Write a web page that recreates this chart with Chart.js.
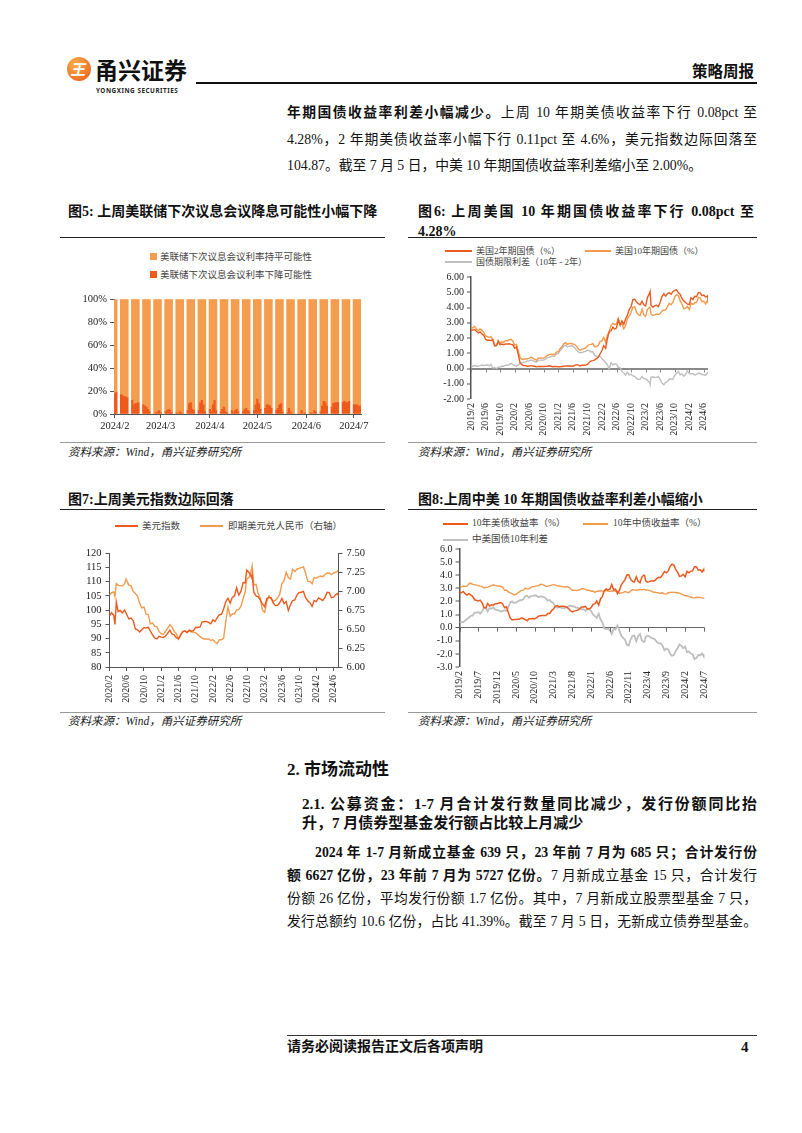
<!DOCTYPE html>
<html><head><meta charset="utf-8">
<script src="https://cdn.jsdelivr.net/npm/chart.js@4.4.1/dist/chart.umd.min.js"></script>
<style>
body{margin:0;background:#fff;}
#page{position:relative;width:802px;height:1133px;overflow:hidden;font-family:'Liberation Serif','Noto Sans CJK SC',serif;color:#111;}
.a{position:absolute;white-space:nowrap;}
.j{position:absolute;text-align:justify;text-align-last:justify;white-space:nowrap;}
.p{font-size:13.8px;line-height:20px;}
.t{font-size:13.5px;font-weight:bold;line-height:18px;}
.rule{position:absolute;height:1px;background:#222;}
.srcl{position:absolute;height:1px;background:#9a9a9a;}
.src{position:absolute;font-size:11.5px;font-style:italic;color:#222;line-height:14px;white-space:nowrap;}
.lgl{position:absolute;height:2px;}
.lgt{position:absolute;font-size:9.5px;color:#444;line-height:12px;white-space:nowrap;font-family:'Liberation Serif','Noto Sans CJK SC',serif;}
.sq{position:absolute;width:7px;height:7px;}
canvas{position:absolute;}
</style></head>
<body><div id="page">
<!-- header -->
<div class="a" style="left:67px;top:57px;width:24px;height:24px;border-radius:50%;background:radial-gradient(circle at 35% 30%,#F9B048,#E8561C);"></div>
<div class="a" style="left:67px;top:57px;width:24px;height:24px;line-height:24px;text-align:center;color:#fff;font-family:'Noto Sans CJK SC';font-weight:bold;font-size:15px;transform:skewX(-12deg);">王</div>
<div class="a" style="left:95px;top:54px;font-family:'Noto Sans CJK SC';font-weight:bold;font-size:23px;line-height:30px;color:#111;">甬兴证券</div>
<div class="a" style="left:96px;top:86px;font-family:'Noto Sans';font-weight:bold;font-size:6.3px;letter-spacing:0.55px;color:#222;">YONGXING SECURITIES</div>
<div class="a" style="left:196px;top:82px;width:561px;height:2px;background:#111;"></div>
<div class="a" style="left:692px;top:60px;font-family:'Noto Sans CJK SC';font-weight:bold;font-size:15.5px;line-height:20px;">策略周报</div>

<!-- top paragraph -->
<div class="j p" style="left:287px;top:103px;width:470px;"><b>年期国债收益率利差小幅减少。</b>上周 10 年期美债收益率下行 0.08pct 至</div>
<div class="j p" style="left:287px;top:130px;width:470px;">4.28%，2 年期美债收益率小幅下行 0.11pct 至 4.6%，美元指数边际回落至</div>
<div class="a p" style="left:287px;top:156px;">104.87。截至 7 月 5 日，中美 10 年期国债收益率利差缩小至 2.00%。</div>

<!-- figure 5 / 6 titles -->
<div class="a t" style="left:68px;top:203px;font-size:14px;">图5: 上周美联储下次议息会议降息可能性小幅下降</div>
<div class="j t" style="left:418px;top:203px;width:336px;font-size:14px;">图6: 上周美国 10 年期国债收益率下行 0.08pct 至</div>
<div class="a t" style="left:418px;top:223px;font-size:14px;">4.28%</div>
<div class="rule" style="left:60px;top:237px;width:325px;"></div>
<div class="rule" style="left:408px;top:237px;width:349px;"></div>

<!-- fig5 legend -->
<div class="sq" style="left:150px;top:253px;background:#F59D4F;"></div>
<div class="lgt" style="left:160px;top:251px;">美联储下次议息会议利率持平可能性</div>
<div class="sq" style="left:150px;top:271px;background:#EE5A1A;"></div>
<div class="lgt" style="left:160px;top:269px;">美联储下次议息会议利率下降可能性</div>

<!-- fig6 legend -->
<div class="lgl" style="left:445px;top:250px;width:27px;background:#EB5A1E;"></div>
<div class="lgt" style="left:476px;top:245px;font-size:9px;">美国2年期国债（%）</div>
<div class="lgl" style="left:585px;top:250px;width:26px;background:#F39A4C;"></div>
<div class="lgt" style="left:615px;top:245px;font-size:9px;">美国10年期国债（%）</div>
<div class="lgl" style="left:445px;top:261px;width:27px;background:#BFBFBF;"></div>
<div class="lgt" style="left:476px;top:256px;font-size:9px;">国债期限利差（10年 - 2年）</div>

<canvas id="c5" width="310" height="144" style="left:62px;top:290px;"></canvas>
<canvas id="c6" width="300" height="170" style="left:420px;top:268px;"></canvas>

<div class="srcl" style="left:60px;top:442px;width:325px;"></div>
<div class="srcl" style="left:408px;top:442px;width:349px;"></div>
<div class="src" style="left:68px;top:445px;">资料来源：Wind，甬兴证券研究所</div>
<div class="src" style="left:418px;top:445px;">资料来源：Wind，甬兴证券研究所</div>

<!-- figure 7 / 8 titles -->
<div class="a t" style="left:68px;top:491px;font-size:14px;">图7:上周美元指数边际回落</div>
<div class="a t" style="left:418px;top:491px;font-size:14px;">图8:上周中美 10 年期国债收益率利差小幅缩小</div>
<div class="rule" style="left:60px;top:509px;width:325px;"></div>
<div class="rule" style="left:408px;top:509px;width:349px;"></div>

<!-- fig7 legend -->
<div class="lgl" style="left:115px;top:525px;width:23px;background:#EB5A1E;"></div>
<div class="lgt" style="left:142px;top:520px;">美元指数</div>
<div class="lgl" style="left:200px;top:525px;width:23px;background:#F39A4C;"></div>
<div class="lgt" style="left:228px;top:520px;">即期美元兑人民币（右轴）</div>

<!-- fig8 legend -->
<div class="lgl" style="left:443px;top:523px;width:25px;background:#EB5A1E;"></div>
<div class="lgt" style="left:472px;top:517px;">10年美债收益率（%）</div>
<div class="lgl" style="left:583px;top:523px;width:25px;background:#F39A4C;"></div>
<div class="lgt" style="left:613px;top:517px;">10年中债收益率（%）</div>
<div class="lgl" style="left:443px;top:539px;width:25px;background:#BFBFBF;"></div>
<div class="lgt" style="left:472px;top:533px;">中美国债10年利差</div>

<canvas id="c7" width="320" height="160" style="left:60px;top:543px;"></canvas>
<canvas id="c8" width="310" height="165" style="left:410px;top:540px;"></canvas>

<div class="srcl" style="left:60px;top:712px;width:325px;"></div>
<div class="srcl" style="left:408px;top:712px;width:349px;"></div>
<div class="src" style="left:68px;top:714px;">资料来源：Wind，甬兴证券研究所</div>
<div class="src" style="left:418px;top:714px;">资料来源：Wind，甬兴证券研究所</div>

<!-- section 2 -->
<div class="a" style="left:287px;top:759px;font-size:17px;font-weight:bold;line-height:22px;">2. 市场流动性</div>
<div class="j" style="left:302px;top:794px;width:455px;font-size:15px;font-weight:bold;line-height:20px;">2.1. 公募资金：1-7 月合计发行数量同比减少，发行份额同比抬</div>
<div class="a" style="left:302px;top:813px;font-size:15px;font-weight:bold;line-height:20px;">升，7 月债券型基金发行额占比较上月减少</div>
<div class="j p" style="left:315px;top:843px;width:442px;font-weight:bold;">2024 年 1-7 月新成立基金 639 只，23 年前 7 月为 685 只；合计发行份</div>
<div class="j p" style="left:287px;top:866px;width:470px;"><b>额 6627 亿份，23 年前 7 月为 5727 亿份。</b>7 月新成立基金 15 只，合计发行</div>
<div class="j p" style="left:287px;top:889px;width:470px;">份额 26 亿份，平均发行份额 1.7 亿份。其中，7 月新成立股票型基金 7 只，</div>
<div class="j p" style="left:287px;top:912px;width:470px;">发行总额约 10.6 亿份，占比 41.39%。截至 7 月 5 日，无新成立债券型基金。</div>

<!-- footer -->
<div class="a" style="left:287px;top:1035px;width:470px;height:1px;background:#333;"></div>
<div class="a" style="left:287px;top:1038px;font-size:14px;font-weight:bold;line-height:18px;">请务必阅读报告正文后各项声明</div>
<div class="a" style="left:741px;top:1038px;font-size:15px;font-weight:bold;line-height:18px;">4</div>
</div>

<script>
// ---------------- Figure 5 data: Fed next-meeting probabilities (per trading day, %) ----------------
const fedStart = [2024, 2, 1];
const fedEnd = [2024, 7, 5];
const fedTickLabels = ['2024/2', '2024/3', '2024/4', '2024/5', '2024/6', '2024/7'];
const fedCutProb = [
  18, 19,
  17, 16, 15, 15, 14,
  12, 8, 9, 9, 10,
  8, 7, 6, 4, 2,
  0, 1, 2, 3, 1,
  2, 3, 4, 3, 1,
  1, 0, 2, 1, 0,
  3, 9, 10, 4, 3,
  3, 10, 12, 8, 2,
  4, 2, 8, 12, 3,
  2, 4, 6, 2, 1,
  3, 1, 3, 4, 2,
  2, 4, 5, 3, 2,
  3, 8, 13, 9, 4,
  5, 8, 8, 7, 5,
  3, 5, 8, 9, 2,
  1, 5, 2, 0, 0,
  0, 0, 3, 0, 1,
  0, 1, 0, 3, 2,
  2, 7, 11, 10, 7,
  6, 9, 10, 10, 10,
  10, 11, 10, 10, 11,
  8, 8, 8, 7, 7
];
const fedHoldProb = [
  82, 81,
  83, 84, 85, 85, 86,
  88, 92, 91, 91, 90,
  92, 93, 94, 96, 98,
  100, 99, 98, 97, 99,
  98, 97, 96, 97, 99,
  99, 100, 98, 99, 100,
  97, 91, 90, 96, 97,
  97, 90, 88, 92, 98,
  96, 98, 92, 88, 97,
  98, 96, 94, 98, 99,
  97, 99, 97, 96, 98,
  98, 96, 95, 97, 98,
  97, 92, 87, 91, 96,
  95, 92, 92, 93, 95,
  97, 95, 92, 91, 98,
  99, 95, 98, 100, 100,
  100, 100, 97, 100, 99,
  100, 99, 100, 97, 98,
  98, 93, 89, 90, 93,
  94, 91, 90, 90, 90,
  90, 89, 90, 90, 89,
  92, 92, 92, 93, 93
];

// ---------------- Figures 6 & 8 data: bond yields (%) ----------------
const bondDates = [
 '2019-02-01','2019-02-16','2019-03-01','2019-03-16','2019-04-01','2019-04-16','2019-05-01','2019-05-16','2019-06-01','2019-06-16','2019-07-01','2019-07-16','2019-08-01','2019-08-16','2019-09-01','2019-09-16','2019-10-01','2019-10-16','2019-11-01','2019-11-16','2019-12-01','2019-12-16',
 '2020-01-01','2020-01-16','2020-02-01','2020-02-16','2020-03-01','2020-03-16','2020-04-01','2020-04-16','2020-05-01','2020-05-16','2020-06-01','2020-06-16','2020-07-01','2020-07-16','2020-08-01','2020-08-16','2020-09-01','2020-09-16','2020-10-01','2020-10-16','2020-11-01','2020-11-16','2020-12-01','2020-12-16',
 '2021-01-01','2021-01-16','2021-02-01','2021-02-16','2021-03-01','2021-03-16','2021-04-01','2021-04-16','2021-05-01','2021-05-16','2021-06-01','2021-06-16','2021-07-01','2021-07-16','2021-08-01','2021-08-16','2021-09-01','2021-09-16','2021-10-01','2021-10-16','2021-11-01','2021-11-16','2021-12-01','2021-12-16',
 '2022-01-01','2022-01-16','2022-02-01','2022-02-16','2022-03-01','2022-03-16','2022-04-01','2022-04-16','2022-05-01','2022-05-16','2022-06-01','2022-06-16','2022-07-01','2022-07-16','2022-08-01','2022-08-16','2022-09-01','2022-09-16','2022-10-01','2022-10-16','2022-11-01','2022-11-16','2022-12-01','2022-12-16',
 '2023-01-01','2023-01-16','2023-02-01','2023-02-16','2023-03-01','2023-03-08','2023-03-16','2023-04-01','2023-04-16','2023-05-01','2023-05-16','2023-06-01','2023-06-16','2023-07-01','2023-07-16','2023-08-01','2023-08-16','2023-09-01','2023-09-16','2023-10-01','2023-10-16','2023-11-01','2023-11-16','2023-12-01','2023-12-16',
 '2024-01-01','2024-01-16','2024-02-01','2024-02-16','2024-03-01','2024-03-16','2024-04-01','2024-04-16','2024-05-01','2024-05-16','2024-06-01','2024-06-16','2024-07-01','2024-07-05'
];
const us2y = [
 2.51,2.52,2.55,2.44,2.33,2.40,2.27,2.19,1.92,1.85,1.86,1.84,1.88,1.48,1.50,1.76,1.56,1.60,1.56,1.61,1.61,1.62,
 1.58,1.56,1.33,1.42,0.91,0.36,0.23,0.20,0.19,0.15,0.16,0.19,0.16,0.15,0.11,0.14,0.13,0.14,0.13,0.14,0.15,0.18,0.15,0.12,
 0.13,0.13,0.11,0.11,0.13,0.15,0.17,0.16,0.16,0.15,0.15,0.21,0.25,0.22,0.17,0.21,0.21,0.22,0.27,0.40,0.50,0.52,0.57,0.65,
 0.73,0.97,1.18,1.50,1.33,1.94,2.44,2.46,2.72,2.58,2.66,3.20,2.84,3.12,2.90,3.25,3.51,3.87,4.05,4.50,4.55,4.35,4.25,4.18,
 4.41,4.18,4.10,4.64,4.89,5.05,4.14,4.03,4.10,4.15,4.06,4.34,4.72,4.90,4.75,4.90,4.97,4.87,5.04,5.12,5.17,4.96,4.87,4.58,4.42,
 4.33,4.22,4.20,4.64,4.53,4.73,4.71,4.97,4.96,4.78,4.82,4.69,4.75,4.60
];
const us10y = [
 2.69,2.66,2.76,2.59,2.49,2.59,2.50,2.39,2.13,2.09,2.03,2.10,1.90,1.55,1.50,1.85,1.65,1.75,1.72,1.83,1.82,1.88,
 1.92,1.81,1.52,1.59,1.13,0.73,0.59,0.62,0.62,0.64,0.66,0.75,0.68,0.61,0.53,0.68,0.68,0.69,0.68,0.75,0.87,0.91,0.93,0.92,
 0.93,1.09,1.09,1.30,1.42,1.62,1.69,1.58,1.63,1.64,1.61,1.57,1.46,1.30,1.20,1.26,1.30,1.34,1.48,1.57,1.58,1.63,1.43,1.44,
 1.52,1.78,1.81,2.03,1.72,2.19,2.39,2.83,2.96,2.88,2.94,3.28,2.89,2.93,2.60,2.82,3.26,3.45,3.67,4.02,4.04,3.70,3.53,3.48,
 3.88,3.53,3.42,3.86,4.01,3.98,3.57,3.47,3.51,3.57,3.54,3.61,3.77,3.84,3.83,4.05,4.28,4.18,4.33,4.68,4.84,4.77,4.45,4.22,3.91,
 3.95,4.07,3.87,4.30,4.19,4.31,4.33,4.66,4.63,4.38,4.41,4.24,4.47,4.28
];
const usTermSpread = [
 0.18,0.14,0.21,0.15,0.16,0.19,0.23,0.20,0.21,0.24,0.17,0.26,0.02,0.07,0.00,0.09,0.09,0.15,0.16,0.22,0.21,0.26,
 0.34,0.25,0.19,0.17,0.22,0.37,0.36,0.42,0.43,0.49,0.50,0.56,0.52,0.46,0.42,0.54,0.55,0.55,0.55,0.61,0.72,0.73,0.78,0.80,
 0.80,0.96,0.98,1.19,1.29,1.47,1.52,1.42,1.47,1.49,1.46,1.36,1.21,1.08,1.03,1.05,1.09,1.12,1.21,1.17,1.08,1.11,0.86,0.79,
 0.79,0.81,0.63,0.53,0.39,0.25,-0.05,0.37,0.24,0.30,0.28,0.08,0.05,-0.19,-0.30,-0.43,-0.25,-0.42,-0.38,-0.48,-0.51,-0.65,-0.72,-0.70,
 -0.53,-0.65,-0.68,-0.78,-0.88,-1.07,-0.57,-0.56,-0.59,-0.58,-0.52,-0.73,-0.95,-1.06,-0.92,-0.85,-0.69,-0.69,-0.71,-0.44,-0.33,-0.19,-0.42,-0.36,-0.51,
 -0.38,-0.15,-0.33,-0.34,-0.34,-0.42,-0.38,-0.31,-0.33,-0.40,-0.41,-0.45,-0.28,-0.32
];
const cn10y = [
 3.10,3.10,3.18,3.13,3.16,3.35,3.40,3.30,3.28,3.24,3.22,3.17,3.15,3.03,3.06,3.09,3.14,3.20,3.27,3.21,3.18,3.19,
 3.14,3.09,2.85,2.86,2.73,2.65,2.59,2.51,2.53,2.64,2.75,2.84,2.86,3.00,2.97,2.96,3.09,3.12,3.15,3.19,3.20,3.29,3.30,3.25,
 3.15,3.15,3.20,3.25,3.28,3.24,3.20,3.18,3.15,3.12,3.10,3.14,3.09,2.99,2.85,2.86,2.83,2.87,2.88,2.98,2.98,2.92,2.85,2.85,
 2.78,2.79,2.69,2.78,2.78,2.83,2.79,2.76,2.83,2.80,2.75,2.80,2.82,2.79,2.76,2.63,2.64,2.67,2.76,2.71,2.67,2.79,2.90,2.88,
 2.84,2.90,2.92,2.89,2.92,2.92,2.87,2.86,2.84,2.78,2.72,2.70,2.67,2.64,2.63,2.66,2.56,2.58,2.66,2.68,2.70,2.69,2.68,2.66,2.63,
 2.56,2.50,2.43,2.44,2.37,2.34,2.29,2.26,2.32,2.30,2.31,2.27,2.24,2.28
];
const cnUsSpread = [
 0.41,0.44,0.42,0.54,0.67,0.76,0.90,0.91,1.15,1.15,1.19,1.07,1.25,1.48,1.56,1.24,1.49,1.45,1.55,1.38,1.36,1.31,
 1.22,1.28,1.33,1.27,1.60,1.92,2.00,1.89,1.91,2.00,2.09,2.09,2.18,2.39,2.44,2.28,2.41,2.43,2.47,2.44,2.33,2.38,2.37,2.33,
 2.22,2.06,2.11,1.95,1.86,1.62,1.51,1.60,1.52,1.48,1.49,1.57,1.63,1.69,1.65,1.60,1.53,1.53,1.40,1.41,1.40,1.29,1.42,1.41,
 1.26,1.01,0.88,0.75,1.06,0.64,0.40,-0.07,-0.13,-0.08,-0.19,-0.48,-0.07,-0.14,0.16,-0.19,-0.62,-0.78,-0.91,-1.31,-1.37,-0.91,-0.63,-0.60,
 -1.04,-0.63,-0.50,-0.97,-1.09,-1.06,-0.70,-0.61,-0.67,-0.79,-0.82,-0.91,-1.10,-1.20,-1.20,-1.39,-1.72,-1.60,-1.67,-2.00,-2.14,-2.08,-1.77,-1.56,-1.28,
 -1.39,-1.57,-1.44,-1.86,-1.82,-1.97,-2.04,-2.40,-2.31,-2.08,-2.10,-1.97,-2.23,-2.00
];
const fig6TickLabels = ['2019/2','2019/6','2019/10','2020/2','2020/6','2020/10','2021/2','2021/6','2021/10','2022/2','2022/6','2022/10','2023/2','2023/6','2023/10','2024/2','2024/6'];
const fig8TickLabels = ['2019/2','2019/7','2019/12','2020/5','2020/10','2021/3','2021/8','2022/1','2022/6','2022/11','2023/4','2023/9','2024/2','2024/7'];

// ---------------- Figure 7 data: DXY and USD/CNY ----------------
const fxDates = [
 '2020-02-01','2020-02-16','2020-03-01','2020-03-09','2020-03-19','2020-04-01','2020-04-16','2020-05-01','2020-05-16','2020-05-27','2020-06-16','2020-07-01','2020-07-16','2020-08-01','2020-08-16','2020-09-01','2020-09-16','2020-10-01','2020-10-16','2020-11-01','2020-11-16','2020-12-01','2020-12-16',
 '2021-01-01','2021-01-16','2021-02-01','2021-02-16','2021-03-01','2021-03-16','2021-04-01','2021-04-16','2021-05-01','2021-05-16','2021-06-01','2021-06-16','2021-07-01','2021-07-16','2021-08-01','2021-08-16','2021-09-01','2021-09-16','2021-10-01','2021-10-16','2021-11-01','2021-11-16','2021-12-01','2021-12-16',
 '2022-01-01','2022-01-16','2022-02-01','2022-02-16','2022-03-01','2022-03-16','2022-04-01','2022-04-16','2022-05-01','2022-05-16','2022-06-01','2022-06-16','2022-07-01','2022-07-16','2022-08-01','2022-08-16','2022-09-01','2022-09-16','2022-09-27','2022-10-16','2022-11-01','2022-11-04','2022-11-16','2022-12-01','2022-12-16',
 '2023-01-01','2023-01-16','2023-02-01','2023-02-16','2023-03-01','2023-03-16','2023-04-01','2023-04-16','2023-05-01','2023-05-16','2023-06-01','2023-06-16','2023-07-01','2023-07-16','2023-08-01','2023-08-16','2023-09-01','2023-09-16','2023-10-01','2023-10-16','2023-11-01','2023-11-16','2023-12-01','2023-12-16',
 '2024-01-01','2024-01-16','2024-02-01','2024-02-16','2024-03-01','2024-03-16','2024-04-01','2024-04-16','2024-05-01','2024-05-16','2024-06-01','2024-06-16','2024-07-01','2024-07-05'
];
const dxy = [
 98.0,99.1,98.1,95.0,102.8,99.5,99.9,99.0,100.0,99.0,96.9,97.2,96.3,93.4,93.1,92.3,93.1,93.9,93.7,94.0,92.6,91.3,90.2,
 89.9,90.8,90.5,90.4,90.9,91.8,93.0,91.6,91.3,90.3,89.9,91.0,92.4,92.6,92.1,93.0,92.6,92.8,94.0,93.9,94.1,95.8,96.0,96.0,
 95.7,95.2,96.6,96.0,97.4,98.4,98.6,100.5,103.0,104.2,102.5,104.5,105.0,107.9,105.3,106.6,109.7,109.6,114.1,113.1,111.4,112.4,106.3,105.0,104.7,
 103.5,102.2,101.2,104.0,104.5,104.4,102.5,101.6,101.7,102.6,104.1,102.3,103.0,99.9,101.9,103.4,103.6,105.3,106.2,106.3,106.6,104.4,103.3,102.6,
 101.3,103.4,103.0,104.3,103.9,103.4,104.5,106.3,106.2,104.4,104.6,105.5,105.9,104.9
];
const usdcny = [
 6.95,6.98,6.99,6.93,7.10,7.08,7.07,7.07,7.10,7.16,7.08,7.07,7.00,6.97,6.94,6.84,6.78,6.79,6.70,6.69,6.57,6.58,6.54,
 6.53,6.47,6.44,6.43,6.47,6.51,6.56,6.53,6.47,6.44,6.37,6.43,6.47,6.48,6.46,6.48,6.46,6.46,6.45,6.43,6.40,6.38,6.37,6.37,
 6.37,6.35,6.36,6.33,6.31,6.36,6.36,6.38,6.61,6.79,6.67,6.70,6.70,6.75,6.76,6.80,6.90,6.99,7.16,7.19,7.30,7.33,7.08,7.09,6.97,
 6.90,6.75,6.72,6.86,6.94,6.90,6.87,6.88,6.91,6.96,7.10,7.14,7.25,7.18,7.16,7.29,7.26,7.29,7.30,7.31,7.32,7.24,7.13,7.13,
 7.10,7.18,7.17,7.19,7.20,7.19,7.22,7.24,7.24,7.22,7.24,7.25,7.27,7.27
];
const fig7TickLabels = ['2020/2','2020/6','2020/10','2021/2','2021/6','2021/10','2022/2','2022/6','2022/10','2023/2','2023/6','2023/10','2024/2','2024/6'];

// ---------------- colours & helpers ----------------
const DARK = '#EB5A1E', LIGHT = '#F39A4C', GRAY = '#BFBFBF';
const axisFont = {family: "'Liberation Serif','Times New Roman',serif", size: 10};
const AXC = '#555';
Chart.defaults.font.family = axisFont.family;
Chart.defaults.color = '#222';

function monthPos(dateStr, baseYear) {
  const [y, m, d] = dateStr.split('-').map(Number);
  return (y - baseYear) * 12 + (m - 1) + (d - 1) / 31;
}
function labelPos(lbl, baseYear) {
  const [y, m] = lbl.split('/').map(Number);
  return (y - baseYear) * 12 + (m - 1);
}
function pts(dates, vals, baseYear) {
  return dates.map((d, i) => ({x: monthPos(d, baseYear), y: vals[i]}));
}
const zeroTicks = {
  id: 'zeroTicks',
  afterDatasetsDraw(chart, args, opts) {
    if (!opts || !opts.len) return;
    const xs = chart.scales.x, ys = chart.scales.y, c = chart.ctx;
    const y0 = ys.getPixelForValue(0);
    c.save(); c.strokeStyle = opts.color; c.lineWidth = 1;
    xs.ticks.forEach(t => {
      const px = Math.round(xs.getPixelForValue(t.value)) + 0.5;
      c.beginPath(); c.moveTo(px, y0); c.lineTo(px, y0 + opts.len); c.stroke();
    });
    c.restore();
  }
};
function lineDs(data, color, w) {
  return {data, borderColor: color, borderWidth: w || 1.4, pointRadius: 0, tension: 0, fill: false};
}
function timeAxis(labels, baseYear, minV, maxV, height, pad) {
  const vals = labels.map(l => labelPos(l, baseYear));
  return {
    type: 'linear', min: minV, max: maxV, offset: false,
    afterBuildTicks: s => { s.ticks = vals.map(v => ({value: v})); },
    afterFit: s => { s.height = height; },
    ticks: {autoSkip: false, minRotation: 90, maxRotation: 90, padding: pad, font: axisFont, color: '#222',
      callback: v => { const i = vals.findIndex(x => Math.abs(x - v) < 1e-6); return i >= 0 ? labels[i] : ''; }},
    grid: {display: false, drawTicks: false},
    border: {display: false}
  };
}
const base = {responsive: false, animation: false, devicePixelRatio: 1,
  plugins: {legend: {display: false}, tooltip: {enabled: false}}};

// ---------------- Figure 5 ----------------
const fedDays = [], fedCut = [], fedHold = [], fedTickIdx = [];
{
  let k = 0;
  const d = new Date(Date.UTC(fedStart[0], fedStart[1] - 1, fedStart[2]));
  const end = new Date(Date.UTC(fedEnd[0], fedEnd[1] - 1, fedEnd[2]));
  while (d <= end) {
    const wd = d.getUTCDay();
    if (d.getUTCDate() === 1) fedTickIdx.push(fedDays.length);
    fedDays.push(d.getUTCFullYear() + '/' + (d.getUTCMonth() + 1) + '/' + d.getUTCDate());
    if (wd === 0 || wd === 6) { fedCut.push(null); fedHold.push(null); }
    else { fedCut.push(fedCutProb[k]); fedHold.push(fedHoldProb[k]); k++; }
    d.setUTCDate(d.getUTCDate() + 1);
  }
}
new Chart(document.getElementById('c5'), {
  type: 'bar',
  data: {labels: fedDays, datasets: [
    {data: fedCut, backgroundColor: '#EE5A1A', borderWidth: 0, barPercentage: 1, categoryPercentage: 1},
    {data: fedHold, backgroundColor: '#F59D4F', borderWidth: 0, barPercentage: 1, categoryPercentage: 1}
  ]},
  options: Object.assign({}, base, {
    layout: {padding: {top: 8, right: 11, left: 0, bottom: 0}},
    scales: {
      x: {stacked: true,
        afterBuildTicks: s => { s.ticks = fedTickIdx.map(v => ({value: v})); },
        afterFit: s => { s.height = 20; },
        ticks: {autoSkip: false, maxRotation: 0, minRotation: 0, padding: 2, font: {family: axisFont.family, size: 10.5}, color: '#222',
          callback: v => fedTickLabels[fedTickIdx.indexOf(v)]},
        grid: {display: true, drawOnChartArea: false, offset: false, tickLength: 4, color: AXC},
        border: {display: true, color: AXC, width: 1}},
      y: {stacked: true, min: 0, max: 100,
        afterFit: s => { s.width = 52; },
        ticks: {stepSize: 20, autoSkip: false, padding: 3, font: {family: axisFont.family, size: 10.5}, color: '#222', callback: v => v + '%'},
        grid: {drawOnChartArea: false, tickLength: 4, color: AXC},
        border: {display: true, color: AXC, width: 1}}
    }
  })
});

// ---------------- Figure 6 ----------------
new Chart(document.getElementById('c6'), {
  type: 'line',
  data: {datasets: [
    lineDs(pts(bondDates, us2y, 2019), DARK),
    lineDs(pts(bondDates, us10y, 2019), LIGHT),
    lineDs(pts(bondDates, usTermSpread, 2019), GRAY)
  ]},
  plugins: [zeroTicks],
  options: Object.assign({}, base, {
    plugins: {legend: {display: false}, tooltip: {enabled: false}, zeroTicks: {len: 4, color: '#8a8a8a'}},
    layout: {padding: {top: 7, right: 9, left: 0, bottom: 0}},
    scales: {
      x: timeAxis(fig6TickLabels, 2019, 1, monthPos('2024-07-05', 2019), 39, 4),
      y: {min: -2, max: 6,
        afterFit: s => { s.width = 51; },
        ticks: {stepSize: 1, autoSkip: false, padding: 3, font: axisFont, color: '#222', callback: v => v.toFixed(2)},
        grid: {drawOnChartArea: true, tickLength: 4, tickColor: AXC, tickWidth: 1,
          color: c => (c.tick && c.tick.value === 0) ? '#8a8a8a' : 'rgba(0,0,0,0)',
          lineWidth: c => (c.tick && c.tick.value === 0) ? 2 : 0},
        border: {display: true, color: AXC, width: 1.5}}
    }
  })
});

// ---------------- Figure 7 ----------------
new Chart(document.getElementById('c7'), {
  type: 'line',
  data: {datasets: [
    Object.assign(lineDs(pts(fxDates, dxy, 2020), DARK), {yAxisID: 'y'}),
    Object.assign(lineDs(pts(fxDates, usdcny, 2020), LIGHT), {yAxisID: 'y1'})
  ]},
  options: Object.assign({}, base, {
    layout: {padding: {top: 7, right: 0, left: 0, bottom: 0}},
    scales: {
      x: Object.assign(timeAxis(fig7TickLabels, 2020, 1, monthPos('2024-07-05', 2020), 36, 4), {
        grid: {display: true, drawOnChartArea: false, drawTicks: true, tickLength: 4, color: AXC},
        border: {display: true, color: AXC, width: 1}}),
      y: {position: 'left', min: 80, max: 120,
        afterFit: s => { s.width = 49.5; },
        ticks: {stepSize: 5, autoSkip: false, padding: 4, font: {family: axisFont.family, size: 10.5}, color: '#222'},
        grid: {drawOnChartArea: false, tickLength: 4, color: AXC},
        border: {display: true, color: AXC, width: 1}},
      y1: {position: 'right', min: 6, max: 7.5,
        afterFit: s => { s.width = 41.5; },
        ticks: {stepSize: 0.25, autoSkip: false, padding: 4, font: {family: axisFont.family, size: 10.5}, color: '#222', callback: v => v.toFixed(2)},
        grid: {drawOnChartArea: false, tickLength: 4, color: AXC},
        border: {display: true, color: AXC, width: 1}}
    }
  })
});

// ---------------- Figure 8 ----------------
new Chart(document.getElementById('c8'), {
  type: 'line',
  data: {datasets: [
    lineDs(pts(bondDates, us10y, 2019), DARK, 1.5),
    lineDs(pts(bondDates, cn10y, 2019), LIGHT, 1.4),
    lineDs(pts(bondDates, cnUsSpread, 2019), GRAY, 1.8)
  ]},
  plugins: [zeroTicks],
  options: Object.assign({}, base, {
    plugins: {legend: {display: false}, tooltip: {enabled: false}, zeroTicks: {len: 4, color: '#666'}},
    layout: {padding: {top: 7, right: 8, left: 0, bottom: 0}},
    scales: {
      x: timeAxis(fig8TickLabels, 2019, 1, monthPos('2024-07-05', 2019), 38, 4),
      y: {min: -3, max: 6,
        afterFit: s => { s.width = 49.5; },
        ticks: {stepSize: 1, autoSkip: false, padding: 3, font: axisFont, color: '#222', callback: v => v.toFixed(1)},
        grid: {drawOnChartArea: true, tickLength: 4, tickColor: AXC, tickWidth: 1,
          color: c => (c.tick && c.tick.value === 0) ? '#666' : 'rgba(0,0,0,0)',
          lineWidth: c => (c.tick && c.tick.value === 0) ? 1 : 0},
        border: {display: true, color: AXC, width: 1.5}}
    }
  })
});
</script>
</body></html>
